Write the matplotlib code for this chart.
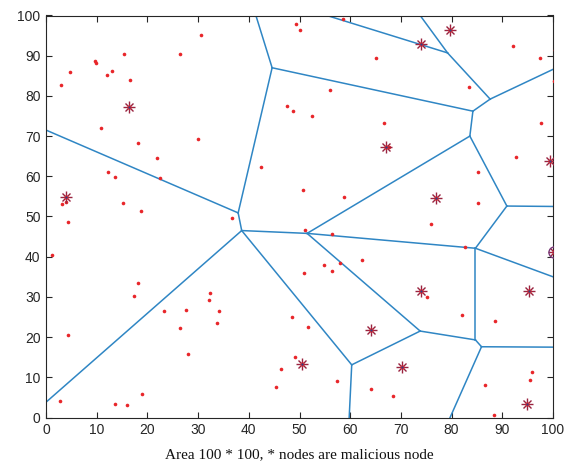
import matplotlib
matplotlib.use("Agg")
import matplotlib.pyplot as plt

# Sensor nodes (red dots)
node_x = [30.6, 26.5, 15.4, 9.7, 9.9, 4.8, 12.96, 12.0, 2.96, 16.6, 10.8, 29.9, 18.1, 21.8, 22.5, 12.3, 13.7, 3.2, 3.9, 15.2, 18.8,
          49.4, 50.0, 58.5, 65.0, 56.0, 47.6, 48.7, 52.4, 66.6, 42.5, 50.6, 58.7, 36.7,
          4.3, 1.2, 18.1, 17.3, 32.3, 32.1, 23.2, 27.7, 34.1, 33.7, 26.4, 4.3, 48.5, 51.6, 28.0, 49.2, 46.4, 45.4, 18.9, 2.8, 13.7, 16.0,
          51.1, 56.4, 50.9, 54.9, 56.4, 58.0, 62.4, 85.3, 75.9, 82.6, 75.1, 82.1, 88.6, 57.3, 64.2, 68.4, 95.9, 95.5, 86.6, 88.4,
          92.2, 97.4, 100.3, 83.4, 100.2, 97.6, 67.7, 92.8, 85.3]
node_y = [95.1, 90.5, 90.3, 88.8, 88.1, 85.9, 86.3, 85.3, 82.8, 84.0, 71.9, 69.4, 68.2, 64.6, 59.7, 61.0, 59.9, 53.0, 53.5, 53.4, 51.4,
          98.0, 96.5, 99.1, 89.4, 81.4, 77.4, 76.2, 75.0, 73.2, 62.2, 56.6, 54.9, 49.6,
          48.6, 40.3, 33.5, 30.2, 30.9, 29.2, 26.4, 26.7, 26.4, 23.5, 22.3, 20.5, 24.9, 22.4, 15.7, 15.1, 12.1, 7.7, 5.8, 4.1, 3.4, 3.1,
          46.6, 45.6, 36.0, 37.9, 36.4, 38.5, 39.1, 53.4, 48.1, 42.3, 30.0, 25.5, 24.0, 9.2, 7.0, 5.3, 11.4, 9.3, 8.0, 0.5,
          92.4, 89.4, 91.3, 82.2, 83.7, 73.3, 67.3, 64.7, 61.0]

# Malicious nodes (asterisks)
mal_x = [16.4, 3.9, 73.96, 79.7, 67.0, 76.9, 99.5, 100.1, 74.0, 95.3, 64.1, 50.4, 70.2, 94.9]
mal_y = [77.2, 54.9, 92.8, 96.4, 67.4, 54.5, 63.9, 41.1, 31.5, 31.5, 21.8, 13.4, 12.5, 3.4]
circled_x = [100.1]
circled_y = [41.1]

# Voronoi vertices
vert_x = [0, 37.9, 44.6, 41.4, 38.6, 0, 51.5, 60.3, 59.8, 84.2, 83.6, 87.6, 79.2, 55.4, 73.8, 100,
          90.9, 100, 84.7, 100, 73.8, 84.7, 85.9, 100, 79.7]
vert_y = [71.5, 50.9, 87.0, 100, 46.5, 3.8, 45.8, 13.1, 0, 76.2, 70.0, 79.2, 90.7, 100, 100, 86.6,
          52.6, 52.5, 42.1, 35.0, 21.5, 19.3, 17.6, 17.5, 0]
edges = [(1, 2), (2, 3), (3, 4), (2, 5), (5, 6), (5, 7), (5, 8), (8, 9), (3, 10), (10, 11), (10, 12),
         (12, 13), (13, 14), (13, 15), (12, 16), (11, 7), (11, 17), (17, 18), (17, 19), (7, 19), (19, 20),
         (7, 21), (8, 21), (21, 22), (19, 22), (22, 23), (23, 24), (23, 25)]

fig = plt.figure(figsize=(5.74, 4.74), dpi=100)
ax = fig.add_axes([46/574, 1-417.5/474, 507/574, 402/474])

for a, b in edges:
    ax.plot([vert_x[a-1], vert_x[b-1]], [vert_y[a-1], vert_y[b-1]], '-', color='#2f86c4', lw=1.1, zorder=2)

ax.plot(node_x, node_y, 'o', color='#e8262a', ms=2.6, mec='none', zorder=3)
ax.plot(mal_x, mal_y, '+', color='#9a2440', ms=9, mew=1.0, zorder=4)
ax.plot(mal_x, mal_y, 'x', color='#9a2440', ms=6.4, mew=1.0, zorder=4)
ax.plot(mal_x, mal_y, 'o', color='#e8262a', ms=3.0, mec='none', zorder=5)
ax.plot(mal_x, mal_y, 'o', color='#3a3f7f', ms=1.8, mec='none', zorder=6)
ax.plot(circled_x, circled_y, 'o', mfc='none', mec='#7a3a7a', ms=8, mew=1.0, zorder=5)

ax.set_xlim(0, 100)
ax.set_ylim(0, 100)
ax.set_xticks(range(0, 101, 10))
ax.set_yticks(range(0, 101, 10))
ax.tick_params(direction='in', length=4, width=0.8, top=True, right=True, colors='#262626',
               labelsize=10, labelcolor='#262626', pad=4)
for lbl in ax.get_xticklabels() + ax.get_yticklabels():
    lbl.set_fontfamily('Liberation Sans')
for s in ax.spines.values():
    s.set_color('#262626')
    s.set_linewidth(0.8)

ax.set_xlabel('Area 100 * 100, * nodes are malicious node', family='Liberation Serif',
              fontsize=11, color='#111111', labelpad=8)

fig.savefig('out.png', dpi=100)
